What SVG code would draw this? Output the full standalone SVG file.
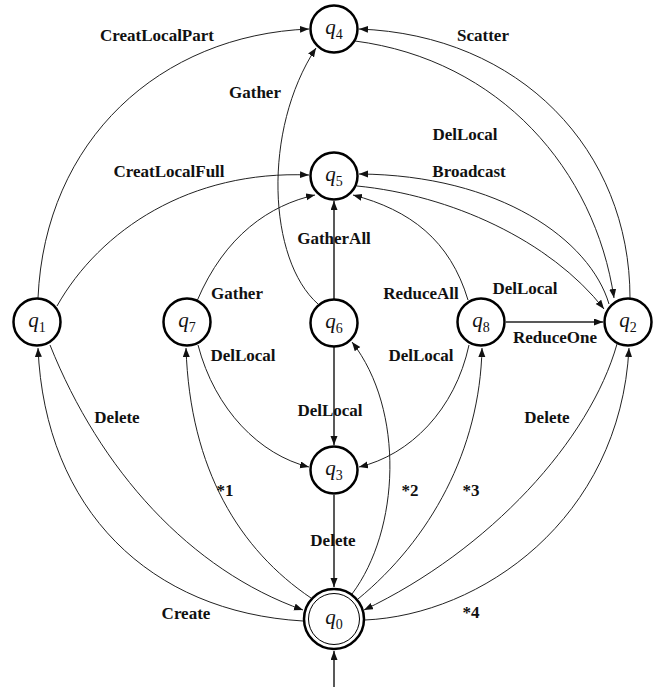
<svg xmlns="http://www.w3.org/2000/svg" width="655" height="687" viewBox="0 0 655 687">
<defs>
<style>
.edge{fill:none;stroke:#222;stroke-width:1;marker-end:url(#ah)}
.straight{stroke-width:1.5}
.nc{fill:#fff;stroke:#000;stroke-width:2.5}
.inner{fill:none;stroke:#000;stroke-width:1}
.lbl{font-family:"Liberation Serif","Times New Roman",serif;font-weight:bold;font-size:17px;text-anchor:middle;fill:#111}
.q{font-family:"Liberation Serif","Times New Roman",serif;font-style:italic;font-size:21px;text-anchor:middle;fill:#111}
.sub{font-style:normal;font-size:14px}
</style>
<marker id="ah" markerUnits="userSpaceOnUse" markerWidth="10" markerHeight="8" refX="9" refY="3.5" orient="auto">
<path d="M0,0 L9,3.5 L0,7 z" fill="#111"/>
</marker>
</defs>
<rect width="655" height="687" fill="#fff"/>
<g id="connectors">
<path class="edge" d="M38 298 C45 140,160 35,309 29"/>
<path class="edge" d="M57 306 C100 230,190 170,309 175"/>
<path class="edge" d="M318 304 C268 260,262 130,316 48"/>
<path class="edge" d="M630 298 C630 150,520 35,359 29"/>
<path class="edge" d="M355 41 C500 60,595 170,614 298"/>
<path class="edge" d="M609 304 C590 240,500 175,359 174"/>
<path class="edge" d="M357 186 C450 195,550 240,604 309"/>
<path class="edge" d="M197 301 C225 235,270 205,315 195"/>
<path class="edge straight" d="M334 299 L334 201"/>
<path class="edge" d="M468 300 C450 240,410 210,353 195"/>
<path class="edge straight" d="M506 322 L603 322"/>
<path class="edge" d="M198 345 C215 410,260 455,309 467"/>
<path class="edge straight" d="M334 347 L334 445"/>
<path class="edge" d="M469 345 C455 410,410 455,359 467"/>
<path class="edge" d="M50 345 C100 470,190 570,303 610"/>
<path class="edge" d="M303 621 C150 612,45 510,38 348"/>
<path class="edge" d="M311 598 C240 550,190 470,186 348"/>
<path class="edge" d="M352 594 C400 530,405 410,352 342"/>
<path class="edge" d="M358 599 C430 540,480 450,482 348"/>
<path class="edge" d="M617 344 C590 440,490 550,364 610"/>
<path class="edge" d="M365 620 C480 615,620 520,629 348"/>
<path class="edge straight" d="M334 495 L334 587"/>
<path class="edge straight" d="M334 687 L334 651"/>
<text class="lbl" x="157" y="41">CreatLocalPart</text>
<text class="lbl" x="255" y="98">Gather</text>
<text class="lbl" x="169" y="177">CreatLocalFull</text>
<text class="lbl" x="483" y="41">Scatter</text>
<text class="lbl" x="465" y="140">DelLocal</text>
<text class="lbl" x="469" y="177">Broadcast</text>
<text class="lbl" x="334" y="244">GatherAll</text>
<text class="lbl" x="237" y="299">Gather</text>
<text class="lbl" x="421" y="299">ReduceAll</text>
<text class="lbl" x="525" y="294">DelLocal</text>
<text class="lbl" x="555" y="343">ReduceOne</text>
<text class="lbl" x="243" y="361">DelLocal</text>
<text class="lbl" x="421" y="361">DelLocal</text>
<text class="lbl" x="330" y="416">DelLocal</text>
<text class="lbl" x="117" y="423">Delete</text>
<text class="lbl" x="547" y="423">Delete</text>
<text class="lbl" x="225" y="496">*1</text>
<text class="lbl" x="410" y="496">*2</text>
<text class="lbl" x="471" y="496">*3</text>
<text class="lbl" x="333" y="546">Delete</text>
<text class="lbl" x="186" y="619">Create</text>
<text class="lbl" x="471" y="618">*4</text>
</g>
<g id="q4"><circle class="nc" cx="334" cy="29" r="23.5"/><text class="q" x="334" y="34">q<tspan class="sub" dy="5">4</tspan></text></g>
<g id="q5"><circle class="nc" cx="334" cy="176" r="23.5"/><text class="q" x="334" y="181">q<tspan class="sub" dy="5">5</tspan></text></g>
<g id="q1"><circle class="nc" cx="37" cy="322" r="23.5"/><text class="q" x="37" y="327">q<tspan class="sub" dy="5">1</tspan></text></g>
<g id="q7"><circle class="nc" cx="187" cy="322" r="23.5"/><text class="q" x="187" y="327">q<tspan class="sub" dy="5">7</tspan></text></g>
<g id="q6"><circle class="nc" cx="334" cy="323" r="23.5"/><text class="q" x="334" y="328">q<tspan class="sub" dy="5">6</tspan></text></g>
<g id="q8"><circle class="nc" cx="481" cy="322" r="23.5"/><text class="q" x="481" y="327">q<tspan class="sub" dy="5">8</tspan></text></g>
<g id="q2"><circle class="nc" cx="628" cy="322" r="23.5"/><text class="q" x="628" y="327">q<tspan class="sub" dy="5">2</tspan></text></g>
<g id="q3"><circle class="nc" cx="334" cy="470" r="23.5"/><text class="q" x="334" y="475">q<tspan class="sub" dy="5">3</tspan></text></g>
<g id="q0"><circle class="nc" cx="334" cy="619" r="30"/><circle class="inner" cx="334" cy="619" r="25.5"/><text class="q" x="334" y="624">q<tspan class="sub" dy="5">0</tspan></text></g>
</svg>
